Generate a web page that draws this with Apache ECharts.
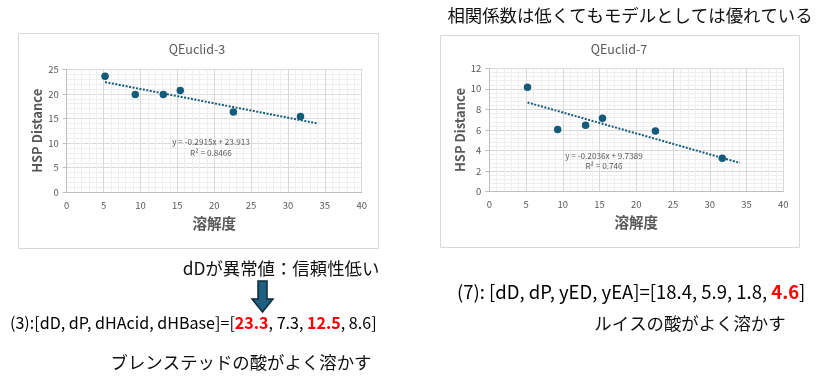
<!DOCTYPE html>
<html><head><meta charset="utf-8">
<script src="https://cdn.jsdelivr.net/npm/echarts@6/dist/echarts.min.js"></script>
<style>html,body{margin:0;padding:0;background:#fff}#c{width:837px;height:387px}</style>
</head><body><div id="c"></div>
<script>
// ---- data ----
const xTicks = [0, 5, 10, 15, 20, 25, 30, 35, 40];
const solubility = [5.2, 9.3, 13.1, 15.4, 22.6, 31.7];
const dist3 = [23.6, 19.9, 19.9, 20.7, 16.3, 15.4];
const dist7 = [10.15, 6.05, 6.45, 7.15, 5.9, 3.25];
const trendX = [5.2, 34.1];
const trend3 = [22.4, 13.97];
const trend7 = [8.68, 2.80];
const eq3 = ['y = -0.2915x + 23.913', 'R² = 0.8466'];
const eq7 = ['y = -0.2036x + 9.7389', 'R² = 0.746'];
const titles = ['QEuclid-3', 'QEuclid-7'];

const FONT = '"Noto Sans CJK JP", "Noto Sans", sans-serif';
const BLUE = '#135a7b';
const chart = echarts.init(document.getElementById('c'));

function xAxis(gi) {
  return {
    gridIndex: gi, type: 'value', min: 0, max: 40, interval: 5,
    name: '溶解度', nameLocation: 'middle', nameGap: 24,
    nameTextStyle: {fontFamily: FONT, fontSize: 14.5, fontWeight: 'bold', color: '#595959'},
    axisLine: {lineStyle: {color: '#bfbfbf'}},
    axisTick: {show: false},
    axisLabel: {color: '#595959', fontSize: 9.5, fontFamily: FONT, margin: 8},
    splitLine: {show: true, lineStyle: {color: '#d9d9d9', width: 1}},
    minorTick: {show: false, splitNumber: 5},
    minorSplitLine: {show: true, lineStyle: {color: '#eeeeee', width: 1}}
  };
}
function yAxis(gi, max, interval) {
  return {
    gridIndex: gi, type: 'value', min: 0, max: max, interval: interval,
    name: 'HSP Distance', nameLocation: 'middle', nameGap: 23,
    nameTextStyle: {fontFamily: FONT, fontSize: 13, fontWeight: 'bold', color: '#595959'},
    axisLine: {show: true, lineStyle: {color: '#bfbfbf'}},
    axisTick: {show: true, length: 4, lineStyle: {color: '#bfbfbf'}},
    axisLabel: {color: '#595959', fontSize: 9.5, fontFamily: FONT, margin: 8},
    splitLine: {show: true, lineStyle: {color: '#d9d9d9', width: 1}},
    minorTick: {show: false, splitNumber: 5},
    minorSplitLine: {show: true, lineStyle: {color: '#eeeeee', width: 1}}
  };
}
const pts3 = solubility.map((x, i) => [x, dist3[i]]);
const pts7 = solubility.map((x, i) => [x, dist7[i]]);
const tr3 = trendX.map((x, i) => [x, trend3[i]]);
const tr7 = trendX.map((x, i) => [x, trend7[i]]);

function txt(x, y, t, size, color, weight, align) {
  return {type: 'text', x: x, y: y, z: 10,
    style: {text: t, fontFamily: FONT, fontSize: size, fill: color || '#000',
      fontWeight: weight || 'normal', textAlign: align || 'left', textVerticalAlign: 'middle'}};
}
function rich(x, y, parts, size) {
  return {type: 'text', x: x, y: y, z: 10,
    style: {
      text: parts.map(p => p[1] ? '{r|' + p[0] + '}' : '{n|' + p[0] + '}').join(''),
      textVerticalAlign: 'middle',
      rich: {
        n: {fontFamily: FONT, fontSize: size, fill: '#000', color: '#000'},
        r: {fontFamily: FONT, fontSize: size, fill: '#ff0000', color: '#ff0000', fontWeight: 'bold'}
      }
    }};
}

chart.setOption({
  backgroundColor: '#fff',
  animation: false,
  graphic: [
    {type: 'rect', shape: {x: 18.5, y: 33.5, width: 360, height: 215}, style: {fill: '#fff', stroke: '#d9d9d9', lineWidth: 1}, z: -10},
    {type: 'rect', shape: {x: 440.5, y: 35.5, width: 359, height: 212}, style: {fill: '#fff', stroke: '#d9d9d9', lineWidth: 1}, z: -10},
    txt(197, 49, titles[0], 12.5, '#595959', 'normal', 'center'),
    txt(619, 49, titles[1], 12.5, '#595959', 'normal', 'center'),
    txt(211, 142, eq3[0], 8.2, '#595959', 'normal', 'center'),
    txt(211, 153, eq3[1], 8.2, '#595959', 'normal', 'center'),
    txt(604, 156, eq7[0], 8.2, '#595959', 'normal', 'center'),
    txt(604, 166, eq7[1], 8.2, '#595959', 'normal', 'center'),
    txt(630, 15, '相関係数は低くてもモデルとしては優れている', 17.4, '#111', 'normal', 'center'),
    txt(281, 268, 'dDが異常値：信頼性低い', 17.4, '#111', 'normal', 'center'),
    {type: 'polygon', z: 10, shape: {points: [[258, 281], [267, 281], [267, 299], [273, 299], [262.5, 312], [252, 299], [258, 299]]},
      style: {fill: '#1f5f80', stroke: '#0c2a3c', lineWidth: 1.5}},
    rich(10, 323, [['(3):[dD, dP, dHAcid, dHBase]=[', 0], ['23.3', 1], [', 7.3, ', 0], ['12.5', 1], [', 8.6]', 0]], 16.1),
    txt(241, 362, 'ブレンステッドの酸がよく溶かす', 17.4, '#111', 'normal', 'center'),
    rich(457, 292, [['(7): [dD, dP, yED, yEA]=[18.4, 5.9, 1.8, ', 0], ['4.6', 1], [']', 0]], 18.5),
    txt(690, 323, 'ルイスの酸がよく溶かす', 17.4, '#111', 'normal', 'center')
  ],
  grid: [
    {left: 66.7, top: 69.3, width: 295, height: 123},
    {left: 489.3, top: 68.3, width: 294, height: 123.4}
  ],
  xAxis: [xAxis(0), xAxis(1)],
  yAxis: [yAxis(0, 25, 5), yAxis(1, 12, 2)],
  series: [
    {type: 'line', xAxisIndex: 0, yAxisIndex: 0, data: tr3, symbol: 'none', lineStyle: {color: BLUE, width: 2, type: [2, 1.5]}, z: 3},
    {type: 'scatter', xAxisIndex: 0, yAxisIndex: 0, data: pts3, symbolSize: 7.5, itemStyle: {color: BLUE, opacity: 1}, z: 4},
    {type: 'line', xAxisIndex: 1, yAxisIndex: 1, data: tr7, symbol: 'none', lineStyle: {color: BLUE, width: 2, type: [2, 1.5]}, z: 3},
    {type: 'scatter', xAxisIndex: 1, yAxisIndex: 1, data: pts7, symbolSize: 7.5, itemStyle: {color: BLUE, opacity: 1}, z: 4}
  ]
});
</script></body></html>
